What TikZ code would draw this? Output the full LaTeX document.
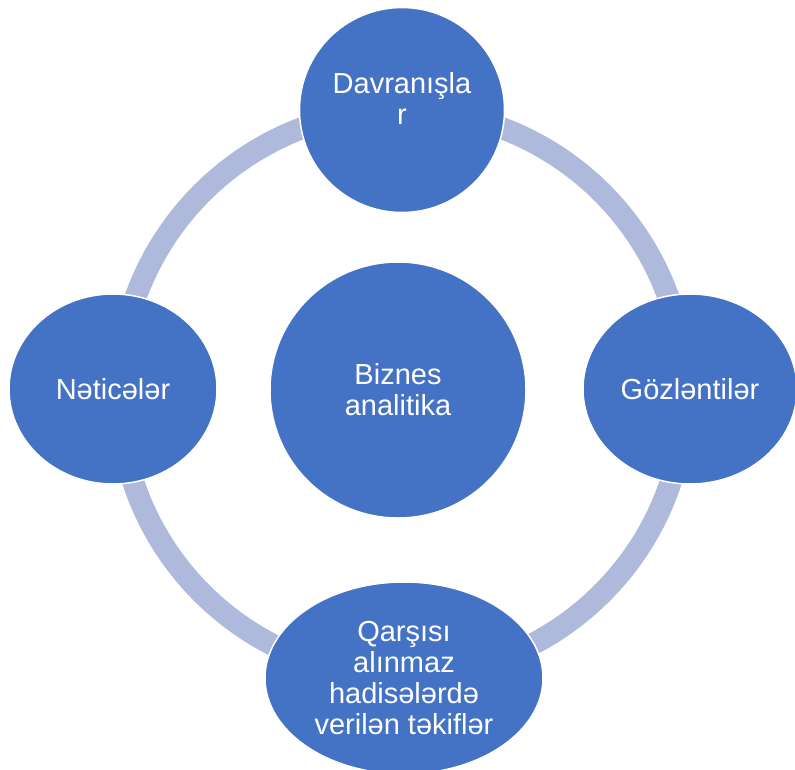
\documentclass[tikz,border=0pt]{standalone}
\usepackage{fontspec}
\setmainfont{Liberation Sans}
\usetikzlibrary{shapes.geometric}
\definecolor{bubble}{HTML}{4472C4}
\definecolor{ringblue}{HTML}{AEB9DB}
\tikzset{
  bubble/.style={ellipse, fill=bubble, draw=white, line width=1.5pt, inner sep=0pt,
    text=white, align=center, font=\fontsize{29}{31}\selectfont},
  ring/.style={draw=ringblue, line width=22pt}
}
\begin{document}
\begin{tikzpicture}[x=1pt,y=-1pt]
    \useasboundingbox (0,0) rectangle (795,769);
    \clip (0,0) rectangle (795,769);
    % cycle behind the bubbles
    \draw[ring] (402,393) circle (283pt);

    \node[bubble, minimum width=205pt, minimum height=205pt] (beh) at (402,110) {Davranışla\\r\\[-8pt]{}};
    \node[bubble, minimum width=214pt, minimum height=190pt] (exp) at (690,389) {Gözləntilər};
    \node[bubble, minimum width=278pt, minimum height=192pt, inner xsep=-30pt] (sol) at (404,678) {Qarşısı\\alınmaz\\hadisələrdə\\verilən təkiflər};
    \node[bubble, minimum width=208pt, minimum height=190pt] (res) at (113,389) {Nəticələr};

    \node[bubble, minimum width=256pt, minimum height=256pt] (core) at (398,390) {Biznes\\analitika};
\end{tikzpicture}
\end{document}
